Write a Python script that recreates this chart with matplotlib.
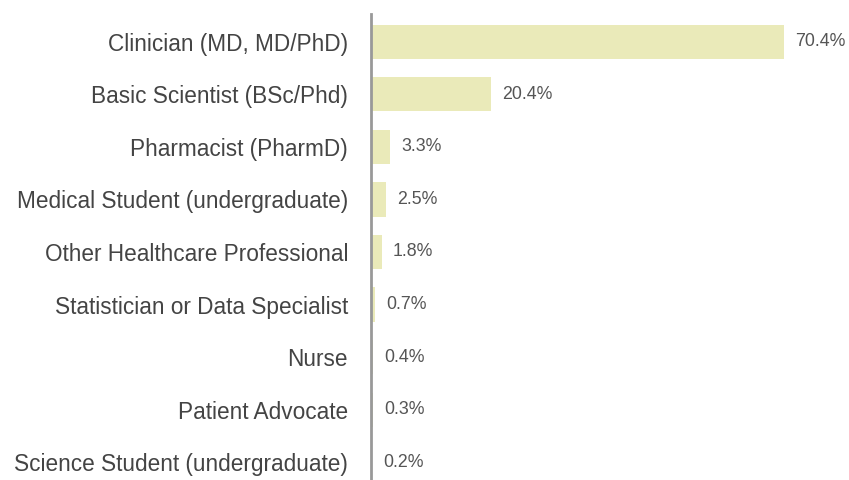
import matplotlib
matplotlib.use("Agg")
import matplotlib.pyplot as plt

categories = [
    "Clinician (MD, MD/PhD)",
    "Basic Scientist (BSc/Phd)",
    "Pharmacist (PharmD)",
    "Medical Student (undergraduate)",
    "Other Healthcare Professional",
    "Statistician or Data Specialist",
    "Nurse",
    "Patient Advocate",
    "Science Student (undergraduate)",
]
values = [70.4, 20.4, 3.3, 2.5, 1.8, 0.7, 0.4, 0.3, 0.2]
value_labels = ["70.4%", "20.4%", "3.3%", "2.5%", "1.8%", "0.7%", "0.4%", "0.3%", "0.2%"]

plt.rcParams['font.family'] = ['Liberation Sans', 'DejaVu Sans']

fig = plt.figure(figsize=(8.49, 4.80), dpi=100)
ax = fig.add_axes([371/849, 0, 1 - 371/849, 466/480])

y = list(range(len(categories)))
ax.barh(y, values, height=0.65, color="#eaeab9", edgecolor="none")
for yi, v, lab in zip(y, values, value_labels):
    ax.text(v + 1.9, yi, lab, va="center", ha="left", fontsize=12.8, color="#555555")

ax.set_yticks(y)
ax.set_yticklabels(categories, fontsize=16.3, color="#444444")
ax.tick_params(axis="y", length=0, pad=16.5)
ax.set_xticks([])
ax.set_xlim(0, (849 - 371) / 5.87)
ax.set_ylim(8.34, -0.53)
for s in ["top", "right", "bottom"]:
    ax.spines[s].set_visible(False)
ax.spines["left"].set_color("#999999")
ax.spines["left"].set_linewidth(2)

fig.savefig("out.png", dpi=100)
